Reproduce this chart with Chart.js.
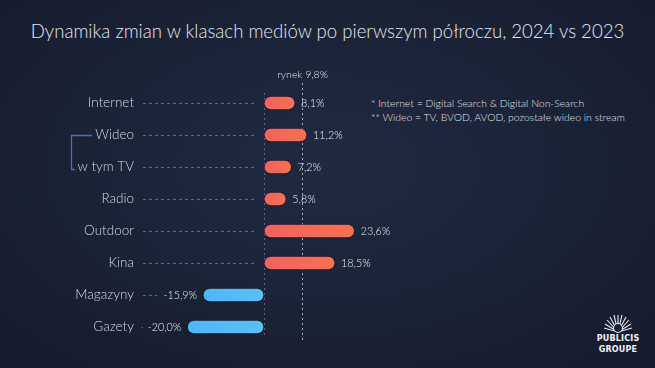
<!DOCTYPE html>
<html>
<head>
<meta charset="utf-8">
<script src="https://cdn.jsdelivr.net/npm/chart.js@4/dist/chart.umd.min.js"></script>
<style>
  html,body{margin:0;padding:0;}
  body{width:655px;height:368px;overflow:hidden;position:relative;
    background: radial-gradient(ellipse 70% 75% at 50% 45%, #1f2a41 0%, #1a2236 55%, #161b2e 100%);
    font-family: Lato, "Open Sans", sans-serif;}
  #title{position:absolute;left:0;top:20px;width:655px;text-align:center;color:#e6e8ef;font-size:18.6px;font-weight:300;}
  #note{position:absolute;left:371px;top:96px;color:#e2e4ec;font-size:10.4px;line-height:14px;font-weight:300;}
  #logo{position:absolute;left:594px;top:313px;width:48px;text-align:center;color:#f2f2f6;font-family:"DejaVu Sans",sans-serif;font-weight:bold;font-size:8px;line-height:11px;letter-spacing:0.2px;}
  #logo svg{display:block;margin:0 auto 0 auto;}
  canvas{position:absolute;left:0;top:0;}
</style>
</head>
<body>
<div id="title">Dynamika zmian w klasach mediów po pierwszym półroczu, 2024 vs 2023</div>
<div id="note">* Internet = Digital Search &amp; Digital Non-Search<br>** Wideo = TV, BVOD, AVOD, pozostałe wideo in stream</div>
<div id="logo">
  <svg width="30" height="20" viewBox="0 0 30 20">
    <g stroke="#e8e8ee" stroke-width="1.1" fill="none">
      <path d="M15 19 L15 2 M15 19 L7 4 M15 19 L23 4 M15 19 L2 11 M15 19 L28 11 M15 19 L11 2 M15 19 L19 2 M15 19 L4 7 M15 19 L26 7 M15 19 L1 15 M15 19 L29 15"/>
    </g>
    <circle cx="15" cy="15" r="4.5" fill="#1a2236" stroke="#e8e8ee" stroke-width="1"/>
  </svg>
  PUBLICIS<br>GROUPE
</div>
<canvas id="c" width="655" height="368"></canvas>
<script>
const categories = ["Internet", "Wideo", "w tym TV", "Radio", "Outdoor", "Kina", "Magazyny", "Gazety"];
const values = [8.1, 11.2, 7.2, 5.8, 23.6, 18.5, -15.9, -20.0];
const marketValue = 9.8;
const marketLabel = "rynek 9,8%";

function fmt(v){ return v.toFixed(1).replace('.', ',') + '%'; }
const FONT = 'Lato, "Open Sans", sans-serif';

const overlay = {
  id: 'overlay',
  beforeDatasetsDraw(chart){
    const ctx = chart.ctx, xs = chart.scales.x, ys = chart.scales.y, ca = chart.chartArea;
    const x0 = xs.getPixelForValue(0);
    ctx.save();
    ctx.strokeStyle = 'rgba(120,128,155,0.75)';
    ctx.lineWidth = 1;
    ctx.setLineDash([3,3]);
    ctx.font = '300 10.8px ' + FONT;
    values.forEach((v,i)=>{
      const y = Math.round(ys.getPixelForValue(i)) + 0.5;
      let end = x0 - 7;
      if (v < 0) {
        const w = ctx.measureText(fmt(v)).width;
        end = xs.getPixelForValue(v) - 6 - w - 6;
      }
      ctx.beginPath(); ctx.moveTo(ca.left, y); ctx.lineTo(end, y); ctx.stroke();
    });
    ctx.setLineDash([2,3]);
    ctx.strokeStyle = 'rgba(110,118,145,0.8)';
    ctx.beginPath(); ctx.moveTo(Math.round(x0)+0.5, ca.top + 6); ctx.lineTo(Math.round(x0)+0.5, ca.bottom - 6); ctx.stroke();
    const xm = Math.round(xs.getPixelForValue(marketValue)) + 0.5;
    ctx.strokeStyle = 'rgba(190,196,215,0.85)';
    ctx.beginPath(); ctx.moveTo(xm, ca.top - 4); ctx.lineTo(xm, ca.bottom - 2); ctx.stroke();
    ctx.setLineDash([]);
    ctx.fillStyle = '#e4e6ee';
    ctx.font = '300 10.5px ' + FONT;
    ctx.textAlign = 'center'; ctx.textBaseline = 'middle';
    ctx.fillText(marketLabel, xm, ca.top - 12);
    const yA = Math.round(ys.getPixelForValue(1)) + 0.5;
    const yB = Math.round(ys.getPixelForValue(2)) + 2.5;
    ctx.strokeStyle = '#3f74c4';
    ctx.lineWidth = 1.3;
    ctx.beginPath();
    ctx.moveTo(92, yA); ctx.lineTo(71.5, yA); ctx.lineTo(71.5, yB); ctx.lineTo(75, yB);
    ctx.stroke();
    ctx.restore();
  },
  afterDatasetsDraw(chart){
    const ctx = chart.ctx, meta = chart.getDatasetMeta(0);
    ctx.save();
    ctx.fillStyle = '#eef0f5';
    ctx.font = '300 10.8px ' + FONT;
    ctx.textBaseline = 'middle';
    meta.data.forEach((bar,i)=>{
      const v = values[i];
      if (v >= 0) { ctx.textAlign = 'left'; ctx.fillText(fmt(v), bar.x + 6, bar.y + 1); }
      else { ctx.textAlign = 'right'; ctx.fillText(fmt(v), bar.x - 6, bar.y + 1); }
    });
    ctx.restore();
  }
};

function barFill(c){
  const chart = c.chart, ca = chart.chartArea;
  if (!ca) return '#f2645e';
  const v = values[c.dataIndex];
  const xs = chart.scales.x;
  const x0 = xs.getPixelForValue(0), x1 = xs.getPixelForValue(v);
  const g = chart.ctx.createLinearGradient(Math.min(x0,x1), 0, Math.max(x0,x1), 0);
  if (v >= 0) { g.addColorStop(0, '#f2625e'); g.addColorStop(1, '#f67152'); }
  else { g.addColorStop(0, '#4fb6f6'); g.addColorStop(1, '#5bbff8'); }
  return g;
}

new Chart(document.getElementById('c'), {
  type: 'bar',
  data: {
    labels: categories,
    datasets: [{
      data: values,
      backgroundColor: barFill,
      borderColor: 'rgba(15,17,30,0.55)',
      borderWidth: 1,
      borderSkipped: false,
      borderRadius: 7,
      barThickness: 14
    }]
  },
  options: {
    indexAxis: 'y',
    responsive: false,
    animation: false,
    devicePixelRatio: 1,
    layout: { padding: { top: 87, bottom: 25, left: 0, right: 0 } },
    plugins: { legend: { display: false }, tooltip: { enabled: false } },
    scales: {
      x: { display: false, min: -31.51, max: 101.82 },
      y: {
        afterFit(s){ s.width = 143; },
        grid: { display: false, drawTicks: false },
        border: { display: false },
        ticks: { color: '#d6d9e4', padding: 9, font: { size: 13.5, weight: '300', family: FONT } }
      }
    }
  },
  plugins: [overlay]
});
</script>
</body>
</html>
